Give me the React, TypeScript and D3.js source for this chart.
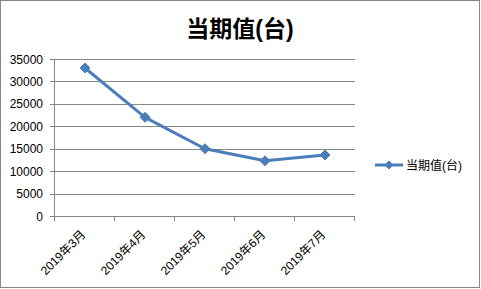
import React from "react";
import * as d3 from "d3";

const categories = ["2019年3月", "2019年4月", "2019年5月", "2019年6月", "2019年7月"];
const values = [33000, 22000, 15000, 12300, 13600];
const yTicks = [0, 5000, 10000, 15000, 20000, 25000, 30000, 35000];
const title = "当期值(台)";
const seriesName = "当期值(台)";

const W = 481, H = 289;
const left = 55, right = 355, top = 59, bottom = 216;
const lineColor = "#4A7EBB";
const font = "'Liberation Sans', Arial, 'Noto Sans CJK SC', sans-serif";

export default function App() {
  const x = d3.scaleBand<string>().domain(categories).range([left, right]);
  const y = d3.scaleLinear().domain([0, 35000]).range([bottom, top]);
  const cx = (c: string) => (x(c) as number) + x.bandwidth() / 2;
  const line = d3.line<number>().x((_, i) => cx(categories[i])).y((d) => y(d));
  const diamond = (px: number, py: number, r = 5) =>
    `M${px},${py - r}L${px + r},${py}L${px},${py + r}L${px - r},${py}Z`;
  const ticksX = [left, ...categories.map((c) => (x(c) as number) + x.bandwidth())];

  return (
    <svg width={W} height={H} style={{ position: "absolute", left: 0, top: 0, background: "#fff" }}>
      <rect x={0.5} y={0.5} width={479} height={287} fill="#fff" stroke="#868686" />
      <text x={240} y={37} textAnchor="middle" fontSize={23} fontWeight="bold" fontFamily={font} fill="#000">
        {title}
      </text>
      {yTicks.map((t) => (
        <g key={t}>
          {t > 0 && <line x1={left} x2={right} y1={Math.round(y(t)) + 0.5} y2={Math.round(y(t)) + 0.5} stroke="#868686" />}
          <line x1={left - 5} x2={left} y1={Math.round(y(t)) + 0.5} y2={Math.round(y(t)) + 0.5} stroke="#868686" />
          <text x={43} y={y(t) + 4.5} textAnchor="end" fontSize={12} fontFamily={font} fill="#000">
            {t}
          </text>
        </g>
      ))}
      <line x1={left - 0.5} x2={left - 0.5} y1={top} y2={bottom + 0.5} stroke="#868686" />
      <line x1={left - 0.5} x2={right} y1={bottom + 0.5} y2={bottom + 0.5} stroke="#868686" />
      {ticksX.map((tx, i) => (
        <line key={i} x1={tx - 0.5} x2={tx - 0.5} y1={bottom} y2={bottom + 5} stroke="#868686" />
      ))}
      {categories.map((c) => (
        <text
          key={c}
          transform={`translate(${cx(c) - 1},${bottom + 17}) rotate(-45)`}
          textAnchor="end"
          dominantBaseline="middle"
          fontSize={12}
          fontFamily={font}
          fill="#000"
        >
          {c}
        </text>
      ))}
      <path d={line(values) || ""} fill="none" stroke={lineColor} strokeWidth={3} strokeLinejoin="round" />
      {values.map((v, i) => (
        <path key={i} d={diamond(cx(categories[i]), y(v))} fill={lineColor} stroke={lineColor} />
      ))}
      <line x1={375} x2={403} y1={165} y2={165} stroke={lineColor} strokeWidth={3} />
      <path d={diamond(389, 165, 4)} fill={lineColor} stroke={lineColor} />
      <text x={406} y={169.5} fontSize={12} fontFamily={font} fill="#000">
        {seriesName}
      </text>
    </svg>
  );
}
